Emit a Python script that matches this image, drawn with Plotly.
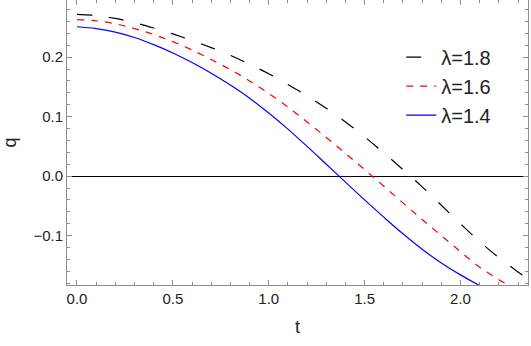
import plotly.graph_objects as go

t = [0.0, 0.1, 0.2, 0.3, 0.4, 0.5, 0.6, 0.7, 0.8, 0.9, 1.0, 1.1, 1.2,
     1.3, 1.4, 1.5, 1.6, 1.7, 1.8, 1.9, 2.0, 2.1, 2.2, 2.3, 2.35]

q_18 = [0.272, 0.270, 0.265, 0.258, 0.249, 0.239, 0.228, 0.216, 0.203, 0.188,
        0.172, 0.154, 0.135, 0.114, 0.091, 0.066, 0.039, 0.011, -0.018, -0.049,
        -0.080, -0.110, -0.137, -0.161, -0.173]
q_16 = [0.263, 0.261, 0.256, 0.248, 0.238, 0.226, 0.212, 0.196, 0.179, 0.160,
        0.139, 0.116, 0.091, 0.065, 0.038, 0.011, -0.017, -0.045, -0.073, -0.100,
        -0.127, -0.153, -0.174, -0.192, -0.200]
q_14 = [0.251, 0.248, 0.242, 0.233, 0.221, 0.207, 0.191, 0.173, 0.153, 0.131,
        0.106, 0.079, 0.050, 0.020, -0.010, -0.040, -0.069, -0.097, -0.123, -0.146,
        -0.166, -0.184, -0.200, -0.214, -0.220]

labels = ["λ=1.8", "λ=1.6", "λ=1.4"]

fig = go.Figure()
fig.add_trace(go.Scatter(x=t, y=q_18, mode="lines", name=labels[0], legendgroup="a",
                         line=dict(color="black", width=1.2, dash="15px,17px", shape="spline")))
fig.add_trace(go.Scatter(x=t, y=q_16, mode="lines", name=labels[1], legendgroup="b",
                         line=dict(color="#ff0000", width=1.2, dash="7px,7px", shape="spline")))
fig.add_trace(go.Scatter(x=t, y=q_14, mode="lines", name=labels[2], legendgroup="c",
                         line=dict(color="#0000ff", width=1.2, shape="spline")))

axis_common = dict(
    showline=True, linecolor="#8c8c8c", linewidth=1, mirror="ticks",
    ticks="inside", ticklen=5, tickcolor="#8c8c8c", showgrid=False,
    tickfont=dict(family="Liberation Sans, Arial", size=15, color="#222"),
)

fig.update_layout(
    width=531, height=346,
    margin=dict(l=67, r=3, t=0, b=61),
    paper_bgcolor="white", plot_bgcolor="white",
    font=dict(family="Liberation Sans, Arial", size=15, color="#222"),
    showlegend=True,
    legend=dict(x=0.725, y=0.868, xanchor="left", yanchor="top",
                font=dict(size=20, color="#222"), tracegroupgap=0,
                bgcolor="rgba(0,0,0,0)"),
    xaxis=dict(range=[-0.052, 2.352], tickvals=[0, 0.5, 1.0, 1.5, 2.0],
               ticktext=["0.0", "0.5", "1.0", "1.5", "2.0"],
               minor=dict(dtick=0.1, tick0=0, ticks="inside", ticklen=3, tickcolor="#8c8c8c"),
               title=dict(text="t", standoff=14), zeroline=False, **axis_common),
    yaxis=dict(range=[-0.183, 0.296], tickvals=[-0.1, 0.0, 0.1, 0.2],
               ticktext=["−0.1", "0.0", "0.1", "0.2"],
               minor=dict(dtick=0.02, tick0=0, ticks="inside", ticklen=3, tickcolor="#8c8c8c"),
               title=dict(text="q", standoff=12), zeroline=True, zerolinecolor="black",
               zerolinewidth=1, **axis_common),
)

fig.write_html("out.html", config={"displayModeBar": False},
               post_script="document.body.style.margin='0';")
